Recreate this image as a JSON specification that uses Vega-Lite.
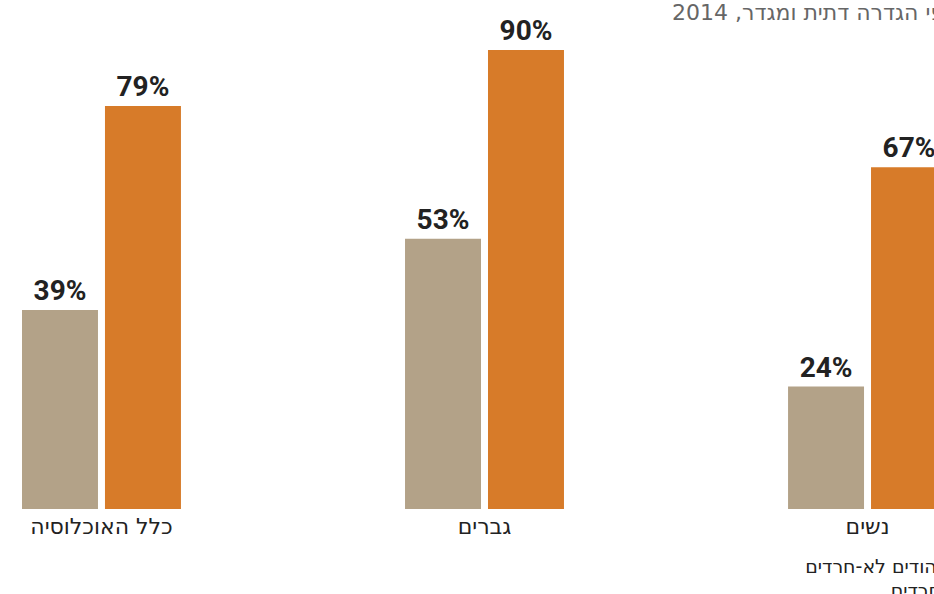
{
  "$schema": "https://vega.github.io/schema/vega-lite/v6.json",
  "width": 912,
  "height": 459,
  "autosize": {"type": "none"},
  "padding": {"left": 22, "top": 50, "right": 0, "bottom": 85},
  "title": {
    "text": "\u2067לפי הגדרה דתית ומגדר, 2014\u2069",
    "anchor": "start",
    "dx": 650,
    "offset": -7,
    "font": "DejaVu Sans",
    "fontSize": 22,
    "fontWeight": "normal",
    "color": "#666666"
  },
  "data": {
    "values": [
      {"group": "כלל האוכלוסיה", "series": "חרדים", "value": 0.39},
      {"group": "כלל האוכלוסיה", "series": "יהודים לא-חרדים", "value": 0.79},
      {"group": "גברים", "series": "חרדים", "value": 0.53},
      {"group": "גברים", "series": "יהודים לא-חרדים", "value": 0.90},
      {"group": "נשים", "series": "חרדים", "value": 0.24},
      {"group": "נשים", "series": "יהודים לא-חרדים", "value": 0.67}
    ]
  },
  "encoding": {
    "x": {
      "field": "group",
      "type": "nominal",
      "sort": ["כלל האוכלוסיה", "גברים", "נשים"],
      "scale": {"range": [0, 925], "paddingInner": 0.585, "paddingOuter": 0},
      "axis": {
        "title": null,
        "domain": false,
        "ticks": false,
        "labelAngle": 0,
        "labelPadding": 7,
        "labelFontSize": 22,
        "labelColor": "#222222",
        "labelFont": "DejaVu Sans"
      }
    },
    "xOffset": {
      "field": "series",
      "type": "nominal",
      "scale": {"domain": ["חרדים", "יהודים לא-חרדים"], "paddingInner": 0.0843, "paddingOuter": 0}
    },
    "y": {
      "field": "value",
      "type": "quantitative",
      "scale": {"domain": [0, 0.9], "nice": false},
      "axis": null
    }
  },
  "layer": [
    {
      "mark": {"type": "bar"},
      "encoding": {
        "color": {
          "field": "series",
          "type": "nominal",
          "scale": {"domain": ["יהודים לא-חרדים", "חרדים"], "range": ["#d77b29", "#b3a288"]},
          "legend": {
            "title": null,
            "orient": "none",
            "legendX": 922,
            "legendY": 507,
            "direction": "vertical",
            "symbolType": "square",
            "symbolSize": 200,
            "labelAlign": "right",
            "labelOffset": -22,
            "rowPadding": 4,
            "padding": 0,
            "labelFontSize": 19,
            "labelColor": "#222222",
            "labelFont": "DejaVu Sans",
            "labelLimit": 0
          }
        }
      }
    },
    {
      "mark": {
        "type": "text",
        "dy": -10,
        "baseline": "alphabetic",
        "align": "center",
        "font": "Roboto",
        "fontSize": 28,
        "fontWeight": "bold",
        "color": "#222222"
      },
      "encoding": {
        "text": {"field": "value", "type": "quantitative", "format": ".0%"}
      }
    }
  ],
  "config": {
    "view": {"stroke": null}
  }
}
